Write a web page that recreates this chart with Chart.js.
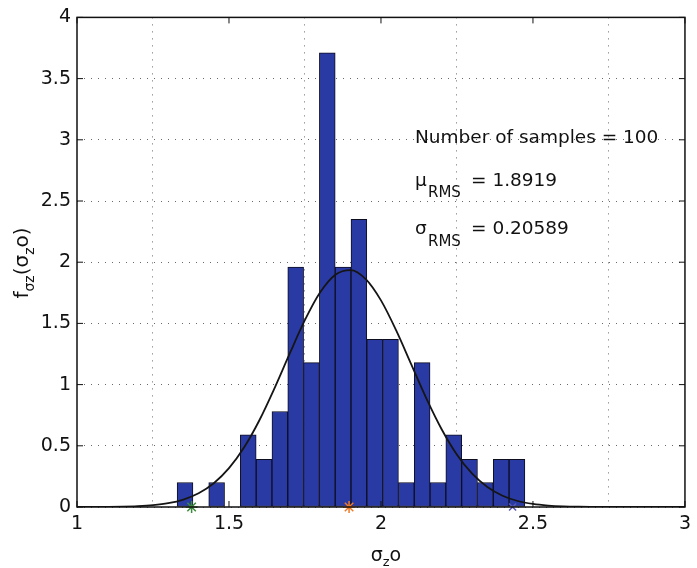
<!DOCTYPE html>
<html>
<head>
<meta charset="utf-8">
<script src="https://cdn.jsdelivr.net/npm/chart.js@4/dist/chart.umd.min.js"></script>
<style>
  html, body { margin: 0; padding: 0; background: #fff; }
  #wrap { width: 697px; height: 568px; position: relative; }
</style>
</head>
<body>
<div id="wrap"><canvas id="c" width="697" height="568"></canvas></div>
<script>
// ---- data ----
const binCenters = [1.3554, 1.4074, 1.4594, 1.5114, 1.5634, 1.6154, 1.6674, 1.7194, 1.7714, 1.8234, 1.8754,
                    1.9274, 1.9794, 2.0314, 2.0834, 2.1354, 2.1874, 2.2394, 2.2914, 2.3434, 2.3954, 2.4474];
const density    = [0.20, 0, 0.20, 0, 0.59, 0.39, 0.78, 1.96, 1.18, 3.71, 1.96,
                    2.35, 1.37, 1.37, 0.20, 1.18, 0.20, 0.59, 0.39, 0.20, 0.39, 0.39];

const curveX = [1.00, 1.05, 1.10, 1.15, 1.20, 1.25, 1.30, 1.35, 1.40, 1.45, 1.50, 1.55, 1.60, 1.65,
                1.70, 1.75, 1.80, 1.85, 1.90, 1.95, 2.00, 2.05, 2.10, 2.15, 2.20, 2.25, 2.30, 2.35,
                2.40, 2.45, 2.50, 2.55, 2.60, 2.65, 2.70, 2.75, 2.80, 2.85, 2.90, 2.95, 3.00];
const curveY = [0.0002, 0.0005, 0.0012, 0.0029, 0.0069, 0.015, 0.031, 0.061, 0.112, 0.194, 0.317, 0.488, 0.709, 0.972,
                1.255, 1.528, 1.754, 1.898, 1.936, 1.862, 1.688, 1.443, 1.163, 0.883, 0.633, 0.427, 0.272, 0.163,
                0.092, 0.049, 0.025, 0.012, 0.005, 0.002, 0.001, 0.0003, 0.0001, 0, 0, 0, 0];

const markerLow  = [1.377];
const markerMean = [1.895];
const markerHigh = [2.433];

const xTicks = [1, 1.5, 2, 2.5, 3];
const yTicks = [0, 0.5, 1, 1.5, 2, 2.5, 3, 3.5, 4];

const nSamples = 100;
const muRMS = "1.8919";
const sigmaRMS = "0.20589";

const FONT = "'DejaVu Sans', 'Liberation Sans', Arial, sans-serif";

// ---- plugin: frame, inward ticks, annotations, axis titles with subscripts ----
const decor = {
  id: 'decor',
  afterDraw(chart) {
    const ctx = chart.ctx;
    const a = chart.chartArea;
    const xs = chart.scales.x, ys = chart.scales.y;
    ctx.save();
    // frame
    ctx.strokeStyle = '#111';
    ctx.lineWidth = 1.5;
    ctx.strokeRect(a.left, a.top, a.right - a.left, a.bottom - a.top);
    // inward ticks
    ctx.lineWidth = 1;
    const tl = 6;
    ctx.beginPath();
    xTicks.forEach(v => {
      const px = xs.getPixelForValue(v);
      ctx.moveTo(px, a.bottom); ctx.lineTo(px, a.bottom - tl);
      ctx.moveTo(px, a.top); ctx.lineTo(px, a.top + tl);
    });
    yTicks.forEach(v => {
      const py = ys.getPixelForValue(v);
      ctx.moveTo(a.left, py); ctx.lineTo(a.left + tl, py);
      ctx.moveTo(a.right, py); ctx.lineTo(a.right - tl, py);
    });
    ctx.stroke();

    // annotations
    ctx.fillStyle = '#111';
    ctx.textBaseline = 'alphabetic';
    ctx.textAlign = 'left';
    const big = "18.5px " + FONT, small = "15px " + FONT;
    ctx.font = big;
    ctx.fillText("Number of samples = " + nSamples, 415, 143);
    ctx.fillText("\u03BC", 415, 186);
    ctx.fillText("= " + muRMS, 471, 186);
    ctx.fillText("\u03C3", 415, 234);
    ctx.fillText("= " + sigmaRMS, 471, 234);
    ctx.font = small;
    ctx.fillText("RMS", 428, 197);
    ctx.fillText("RMS", 428, 246);

    // x-axis title: σ_z o
    const bigT = "19px " + FONT, smallT = "13px " + FONT;
    ctx.font = bigT;
    const wSig = ctx.measureText("\u03C3").width;
    ctx.font = smallT;
    const wZ = ctx.measureText("z").width;
    ctx.font = bigT;
    const wO = ctx.measureText("o").width;
    const total = wSig + wZ + wO;
    let x0 = 386 - total / 2;
    const by = 561;
    ctx.fillText("\u03C3", x0, by);
    ctx.font = smallT;
    ctx.fillText("z", x0 + wSig, by + 5);
    ctx.font = bigT;
    ctx.fillText("o", x0 + wSig + wZ, by);

    // y-axis title: f_{σz}(σ_z o), rotated
    const bigY = "20px " + FONT, smallY = "14px " + FONT;
    ctx.save();
    ctx.translate(28, 263);
    ctx.rotate(-Math.PI / 2);
    const parts = [
      ["f", bigY, 0],
      ["\u03C3z", smallY, 6],
      ["(\u03C3", bigY, 0],
      ["z", smallY, 6],
      ["o)", bigY, 0]
    ];
    let tw = 0;
    parts.forEach(p => { ctx.font = p[1]; tw += ctx.measureText(p[0]).width; });
    let cx = -tw / 2;
    parts.forEach(p => {
      ctx.font = p[1];
      ctx.fillText(p[0], cx, p[2]);
      cx += ctx.measureText(p[0]).width;
    });
    ctx.restore();

    ctx.restore();
  }
};

const fmt = v => String(v);

new Chart(document.getElementById('c'), {
  type: 'bar',
  data: {
    datasets: [
      {
        type: 'line',
        label: 'low',
        data: markerLow.map(x => ({ x: x, y: 0 })),
        showLine: false,
        pointStyle: 'star',
        pointRadius: 6,
        pointBorderWidth: 1.5,
        borderColor: '#3c8a3c',
        backgroundColor: '#3c8a3c',
        clip: false,
        order: 0
      },
      {
        type: 'line',
        label: 'mean',
        data: markerMean.map(x => ({ x: x, y: 0 })),
        showLine: false,
        pointStyle: 'star',
        pointRadius: 6,
        pointBorderWidth: 1.5,
        borderColor: '#f07a26',
        backgroundColor: '#f07a26',
        clip: false,
        order: 0
      },
      {
        type: 'line',
        label: 'high',
        data: markerHigh.map(x => ({ x: x, y: 0 })),
        showLine: false,
        pointStyle: 'crossRot',
        pointRadius: 5,
        pointBorderWidth: 1.5,
        borderColor: '#5a5ab8',
        backgroundColor: '#5a5ab8',
        clip: false,
        order: 0
      },
      {
        type: 'line',
        label: 'normal fit',
        data: curveX.map((x, i) => ({ x: x, y: curveY[i] })),
        borderColor: '#151515',
        borderWidth: 1.8,
        pointRadius: 0,
        fill: false,
        cubicInterpolationMode: 'monotone',
        order: 1
      },
      {
        type: 'bar',
        label: 'histogram',
        data: binCenters.map((x, i) => ({ x: x, y: density[i] })),
        backgroundColor: '#2a3aa4',
        borderColor: '#0d0d20',
        borderWidth: 1,
        borderSkipped: false,
        barPercentage: 1,
        categoryPercentage: 1,
        order: 2
      }
    ]
  },
  options: {
    responsive: false,
    animation: false,
    events: [],
    layout: { padding: { top: 16, right: 11, left: 0, bottom: 0 } },
    plugins: { legend: { display: false }, tooltip: { enabled: false } },
    scales: {
      x: {
        type: 'linear',
        min: 1, max: 3,
        offset: false,
        afterBuildTicks: s => { s.ticks = xTicks.map(v => ({ value: v })); },
        afterFit: s => { s.height = 61; },
        ticks: { color: '#111', font: { family: FONT, size: 19 }, padding: 6, maxRotation: 0, callback: fmt },
        grid: { color: 'rgba(40,40,40,0.7)', drawTicks: false, lineWidth: 1 },
        border: { display: false, dash: [1, 6] }
      },
      y: {
        type: 'linear',
        min: 0, max: 4,
        afterBuildTicks: s => { s.ticks = yTicks.map(v => ({ value: v })); },
        afterFit: s => { s.width = 77; },
        ticks: { color: '#111', font: { family: FONT, size: 19 }, padding: 6, callback: fmt },
        grid: { color: 'rgba(40,40,40,0.7)', drawTicks: false, lineWidth: 1 },
        border: { display: false, dash: [1, 6] }
      }
    }
  },
  plugins: [decor]
});
</script>
</body>
</html>
